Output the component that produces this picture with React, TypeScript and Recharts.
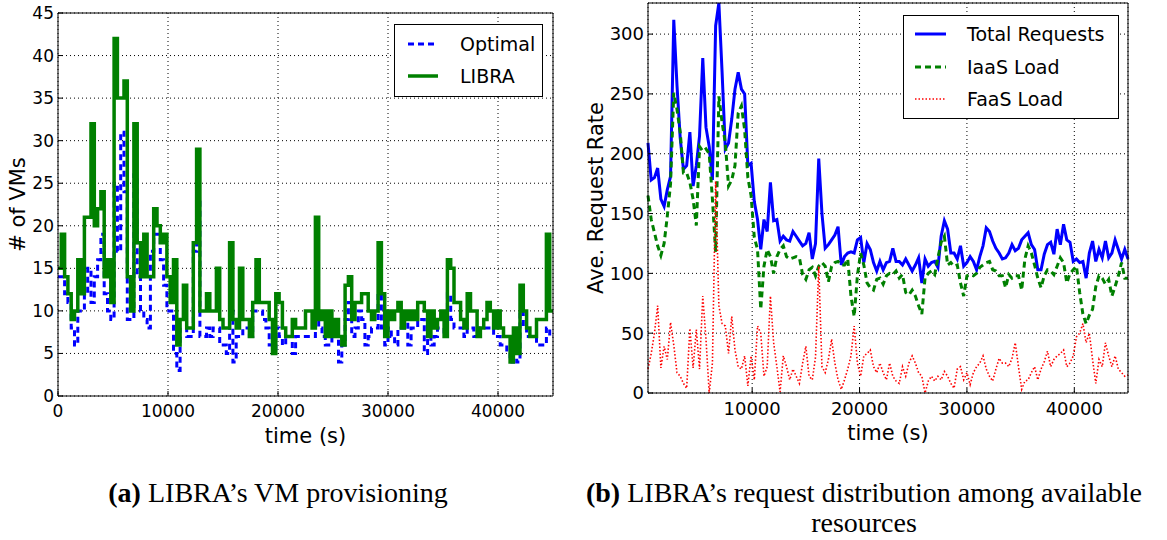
import { LineChart, Line, XAxis, YAxis, CartesianGrid, Legend } from 'recharts'

// sampling interval of both traces (s)
const STEP = 300

// (a) number of VMs, one value per 300 s step starting at t = 0
const OPTIMAL = [
  14, 14, 12, 11, 8, 6, 10, 10, 12, 15, 11, 14, 16, 19, 12, 10, 9, 25, 17, 31,
  24, 9, 9, 26, 14, 10, 9, 8, 17, 19, 19, 16, 13, 10, 10, 5, 3, 8, 8, 7,
  7, 17, 23, 7, 7, 8, 7, 8, 8, 6, 6, 5, 10, 4, 7, 7, 8, 8, 7, 10,
  10, 10, 9, 8, 6, 5, 8, 7, 6, 7, 7, 5, 7, 7, 7, 7, 7, 7, 10, 8,
  7, 6, 6, 8, 9, 4, 6, 9, 11, 7, 8, 10, 9, 6, 7, 8, 8, 12, 8, 6,
  8, 7, 6, 8, 8, 9, 6, 8, 8, 9, 9, 5, 7, 6, 7, 8, 8, 7, 12, 9,
  8, 8, 8, 7, 8, 8, 7, 7, 8, 8, 8, 8, 7, 7, 6, 6, 5, 4, 5, 4,
  10, 8, 7, 7, 7, 6, 6, 6, 8, 7, 7,
]
const LIBRA = [
  15, 19, 14, 12, 9, 10, 16, 12, 21, 21, 32, 20, 22, 24, 14, 16, 11, 42, 35, 35,
  37, 14, 10, 32, 18, 14, 19, 14, 14, 22, 20, 18, 19, 14, 11, 16, 6, 9, 13, 8,
  8, 18, 29, 10, 10, 12, 10, 10, 15, 9, 8, 8, 18, 9, 8, 15, 9, 9, 7, 11,
  16, 11, 11, 11, 9, 5, 12, 11, 8, 7, 7, 9, 8, 8, 8, 10, 10, 8, 21, 9,
  10, 7, 10, 7, 9, 7, 6, 13, 14, 9, 11, 11, 12, 12, 10, 9, 10, 18, 12, 7,
  10, 9, 10, 11, 8, 10, 9, 10, 9, 11, 11, 10, 7, 10, 8, 9, 10, 7, 16, 15,
  11, 11, 9, 8, 12, 10, 10, 7, 8, 9, 11, 10, 8, 10, 8, 7, 7, 4, 8, 5,
  13, 10, 8, 7, 7, 9, 9, 9, 19, 10, 10,
]

// (b) average request rate, one value per 300 s step starting at t = 300
const TOTAL = [
  209, 178, 180, 188, 162, 156, 170, 181, 312, 257, 213, 187, 190, 218, 173, 190, 215, 280, 222, 206,
  178, 307, 326, 268, 204, 209, 229, 254, 268, 254, 250, 190, 192, 160, 145, 120, 145, 135, 176, 144,
  145, 127, 131, 128, 127, 135, 131, 127, 123, 125, 134, 112, 125, 196, 150, 121, 124, 128, 132, 139,
  107, 114, 117, 118, 117, 128, 130, 109, 125, 120, 109, 102, 110, 103, 109, 110, 121, 110, 110, 107,
  112, 107, 102, 107, 113, 92, 112, 106, 109, 110, 105, 131, 144, 137, 117, 117, 112, 123, 106, 109,
  114, 110, 103, 114, 123, 138, 135, 127, 121, 117, 112, 113, 117, 124, 119, 121, 128, 131, 134, 124,
  120, 103, 103, 116, 124, 126, 116, 137, 124, 141, 128, 126, 110, 112, 109, 110, 96, 117, 127, 110,
  120, 113, 127, 113, 117, 128, 120, 112, 120, 112,
]
const IAAS = [
  165, 145, 134, 123, 115, 125, 148, 175, 251, 237, 218, 184, 184, 176, 162, 140, 206, 202, 204, 200,
  162, 118, 248, 226, 209, 173, 178, 190, 234, 240, 220, 180, 165, 130, 120, 70, 106, 120, 114, 100,
  114, 120, 123, 114, 112, 113, 114, 113, 99, 95, 103, 105, 98, 106, 109, 106, 93, 106, 109, 110,
  107, 107, 112, 81, 64, 98, 117, 107, 92, 88, 86, 95, 96, 91, 98, 100, 99, 102, 96, 99,
  84, 82, 86, 81, 73, 66, 96, 100, 102, 99, 113, 126, 131, 107, 109, 106, 107, 92, 81, 98,
  99, 98, 100, 105, 107, 109, 110, 103, 102, 98, 98, 88, 99, 96, 98, 98, 86, 112, 123, 117,
  107, 96, 88, 98, 103, 102, 99, 106, 113, 109, 92, 100, 103, 106, 84, 66, 58, 65, 70, 89,
  98, 96, 91, 95, 81, 89, 98, 109, 96, 96,
]
const FAAS = [
  20, 33, 50, 73, 21, 39, 28, 59, 40, 17, 14, 8, 4, 54, 21, 53, 20, 81, 45, 0,
  25, 177, 73, 58, 56, 33, 64, 36, 22, 20, 31, 6, 31, 11, 56, 50, 14, 22, 81, 42,
  22, 1, 31, 22, 11, 20, 14, 8, 25, 39, 14, 11, 30, 106, 22, 17, 28, 45, 25, 11,
  3, 11, 20, 31, 56, 25, 14, 31, 33, 36, 22, 17, 25, 17, 11, 25, 14, 10, 8, 22,
  14, 25, 31, 25, 17, 14, 0, 10, 14, 10, 14, 11, 18, 14, 8, 4, 20, 22, 11, 17,
  7, 17, 22, 25, 31, 20, 14, 10, 20, 29, 25, 25, 22, 29, 42, 22, 3, 10, 11, 17,
  22, 11, 20, 26, 35, 22, 28, 31, 33, 36, 22, 25, 31, 47, 50, 58, 42, 50, 28, 8,
  28, 22, 42, 31, 22, 31, 20, 17, 14, 15,
]

const VM_X_TICKS = [0, 10000, 20000, 30000, 40000]
const VM_Y_TICKS = [0, 5, 10, 15, 20, 25, 30, 35, 40, 45]
const REQ_X_TICKS = [10000, 20000, 30000, 40000]
const REQ_Y_TICKS = [0, 50, 100, 150, 200, 250, 300]

const vmData = LIBRA.map((v, i) => ({ t: i * STEP, optimal: OPTIMAL[i], libra: v }))
const reqData = TOTAL.map((v, i) => ({ t: (i + 1) * STEP, total: v, iaas: IAAS[i], faas: FAAS[i] }))

const SANS = '"DejaVu Sans", sans-serif'
const SERIF = '"Liberation Serif", "DejaVu Serif", serif'

type Item = { label: string; color: string; width: number; dash?: string }

function BoxLegend(props: { items: Item[]; padTop: number; padLeft: number; rowH: number; gap: number; sampleW: number }) {
  return (
    <div
      style={{
        boxSizing: 'border-box',
        width: '100%',
        height: '100%',
        border: '1px solid #000',
        background: '#fff',
        paddingTop: props.padTop,
        paddingLeft: props.padLeft,
        fontFamily: SANS,
        fontSize: 19,
        color: '#000',
      }}
    >
      {props.items.map((it) => (
        <div key={it.label} style={{ display: 'flex', alignItems: 'center', height: props.rowH }}>
          <svg width={props.sampleW} height={10}>
            <line x1={0} y1={5} x2={props.sampleW} y2={5} stroke={it.color} strokeWidth={it.width} strokeDasharray={it.dash} />
          </svg>
          <span style={{ marginLeft: props.gap, whiteSpace: 'nowrap' }}>{it.label}</span>
        </div>
      ))}
    </div>
  )
}

const tickStyle = { fontSize: 17, fill: '#000', fontFamily: SANS }
const axisLine = { stroke: '#000', strokeWidth: 1 }
const labelStyle = { fontSize: 21, fill: '#000', fontFamily: SANS }

function VmChart() {
  return (
    <LineChart width={560} height={450} data={vmData} margin={{ top: 12, right: 6, bottom: 0, left: 0 }}>
      <CartesianGrid stroke="#000" strokeDasharray="1 3" strokeWidth={1} />
      <XAxis
        dataKey="t"
        type="number"
        domain={[0, 45000]}
        ticks={VM_X_TICKS}
        interval={0}
        height={54}
        tickSize={-5}
        tickMargin={14}
        tick={tickStyle}
        axisLine={axisLine}
        tickLine={axisLine}
        label={{ value: 'time (s)', position: 'insideBottom', offset: 7, style: labelStyle }}
      />
      <XAxis xAxisId="top" orientation="top" type="number" domain={[0, 45000]} ticks={VM_X_TICKS} height={1} tickSize={-5} tick={false} axisLine={axisLine} tickLine={axisLine} />
      <YAxis
        type="number"
        domain={[0, 45]}
        ticks={VM_Y_TICKS}
        interval={0}
        width={58}
        tickSize={-5}
        tickMargin={9}
        tick={tickStyle}
        axisLine={axisLine}
        tickLine={axisLine}
        label={{ value: '# of VMs', angle: -90, position: 'insideLeft', offset: 18, style: { ...labelStyle, textAnchor: 'middle' } }}
      />
      <YAxis yAxisId="right" orientation="right" type="number" domain={[0, 45]} ticks={VM_Y_TICKS} width={1} tickSize={-5} tick={false} axisLine={axisLine} tickLine={axisLine} />
      <Line type="stepAfter" dataKey="optimal" name="Optimal" stroke="#0000ff" strokeWidth={3} strokeDasharray="6 4" dot={false} isAnimationActive={false} />
      <Line type="stepAfter" dataKey="libra" name="LIBRA" stroke="#008000" strokeWidth={3.5} dot={false} isAnimationActive={false} />
      <Legend
        layout="vertical"
        align="center"
        verticalAlign="middle"
        wrapperStyle={{ left: 394, top: 24, width: 149, height: 73 }}
        content={() => (
          <BoxLegend
            padTop={3}
            padLeft={13}
            rowH={32}
            gap={22}
            sampleW={30}
            items={[
              { label: 'Optimal', color: '#0000ff', width: 3, dash: '6 4' },
              { label: 'LIBRA', color: '#008000', width: 3.5 },
            ]}
          />
        )}
      />
    </LineChart>
  )
}

function RequestChart() {
  return (
    <LineChart width={555} height={447} data={reqData} margin={{ top: 2, right: 6, bottom: 0, left: 0 }}>
      <CartesianGrid stroke="#000" strokeDasharray="1 3" strokeWidth={1} />
      <XAxis
        dataKey="t"
        type="number"
        domain={[300, 45000]}
        ticks={REQ_X_TICKS}
        interval={0}
        height={54}
        tickSize={-5}
        tickMargin={14}
        tick={{ ...tickStyle, fontSize: 18 }}
        axisLine={axisLine}
        tickLine={axisLine}
        label={{ value: 'time (s)', position: 'insideBottom', offset: 7, style: labelStyle }}
      />
      <XAxis xAxisId="top" orientation="top" type="number" domain={[300, 45000]} ticks={REQ_X_TICKS} height={1} tickSize={-5} tick={false} axisLine={axisLine} tickLine={axisLine} />
      <YAxis
        type="number"
        domain={[0, 326]}
        ticks={REQ_Y_TICKS}
        interval={0}
        width={68}
        tickSize={-5}
        tickMargin={9}
        tick={{ ...tickStyle, fontSize: 18 }}
        axisLine={axisLine}
        tickLine={axisLine}
        label={{ value: 'Ave. Request Rate', angle: -90, position: 'insideLeft', offset: 16, style: { ...labelStyle, textAnchor: 'middle' } }}
      />
      <YAxis yAxisId="right" orientation="right" type="number" domain={[0, 326]} ticks={REQ_Y_TICKS} width={1} tickSize={-5} tick={false} axisLine={axisLine} tickLine={axisLine} />
      <Line type="linear" dataKey="total" name="Total Requests" stroke="#0000ff" strokeWidth={3} dot={false} isAnimationActive={false} />
      <Line type="linear" dataKey="iaas" name="IaaS Load" stroke="#008000" strokeWidth={3} strokeDasharray="6 4" dot={false} isAnimationActive={false} />
      <Line type="linear" dataKey="faas" name="FaaS Load" stroke="#ff0000" strokeWidth={1.6} strokeDasharray="1.5 2" dot={false} isAnimationActive={false} />
      <Legend
        layout="vertical"
        align="center"
        verticalAlign="middle"
        wrapperStyle={{ left: 323, top: 15, width: 216, height: 104 }}
        content={() => (
          <BoxLegend
            padTop={2}
            padLeft={11}
            rowH={32.5}
            gap={21}
            sampleW={31}
            items={[
              { label: 'Total Requests', color: '#0000ff', width: 3 },
              { label: 'IaaS Load', color: '#008000', width: 3, dash: '6 4' },
              { label: 'FaaS Load', color: '#ff0000', width: 1.6, dash: '1.5 2' },
            ]}
          />
        )}
      />
    </LineChart>
  )
}

const captionStyle = {
  position: 'absolute' as const,
  fontFamily: SERIF,
  fontSize: 28,
  color: '#000',
  textAlign: 'center' as const,
  whiteSpace: 'nowrap' as const,
  lineHeight: '30px',
}

export default function App() {
  return (
    <div style={{ position: 'absolute', left: 0, top: 0, width: 1167, height: 540, background: '#fff', overflow: 'hidden' }}>
      <div style={{ position: 'absolute', left: 0, top: 0 }}>
        <VmChart />
      </div>
      <div style={{ position: 'absolute', left: 580, top: 0 }}>
        <RequestChart />
      </div>
      <div style={{ ...captionStyle, left: 78, top: 478, width: 400 }}>
        <b>(a)</b> LIBRA’s VM provisioning
      </div>
      <div style={{ ...captionStyle, left: 564, top: 478, width: 600 }}>
        <b>(b)</b> LIBRA’s request distribution among available
        <br />
        resources
      </div>
    </div>
  )
}
